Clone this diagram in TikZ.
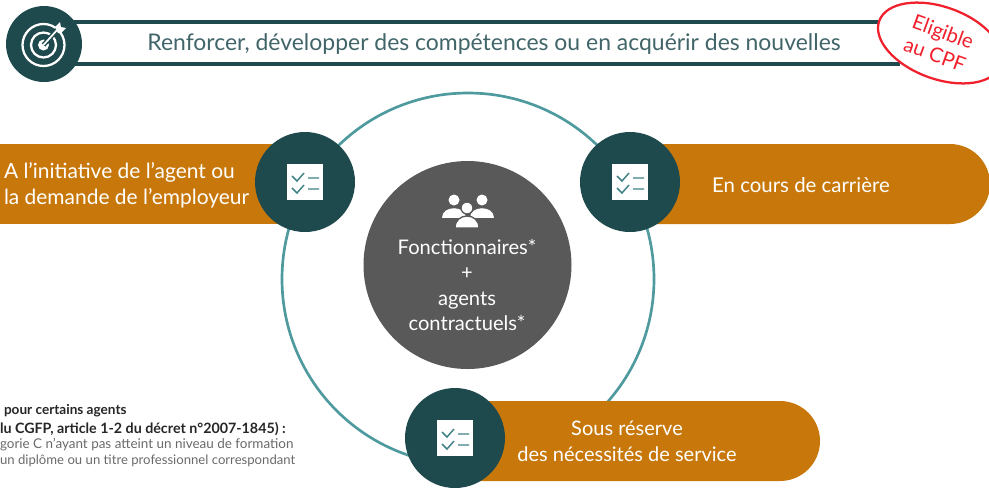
\documentclass[tikz,border=0pt]{standalone}
\usepackage{fontspec}
\usetikzlibrary{shapes.geometric}
\setmainfont{Lato}
\definecolor{darkteal}{HTML}{1F4A4D}
\definecolor{ringteal}{HTML}{4E9A9E}
\definecolor{bandorange}{HTML}{C8780A}
\definecolor{centergray}{HTML}{595959}
\definecolor{stampred}{HTML}{F0202C}
\definecolor{notegray}{HTML}{6A6A6A}

\begin{document}
\begin{tikzpicture}[x=0.75pt, y=-0.75pt,
	nosep/.style={inner sep=0pt, outer sep=0pt},
	disc/.style={circle, minimum size=75pt, fill=darkteal, nosep},
	band/.style={fill=bandorange},
	bandtext/.style={white, align=center, font=\fontsize{15}{19.5}\selectfont, nosep},
	note/.style={anchor=west, nosep, notegray},
	notehead/.style={anchor=west, nosep, black!85},
	checklist/.pic={
		\fill[white] (-18,-18) rectangle (18,18);
		\draw[ringteal!70!darkteal, line width=1.1pt] (-13,-6) -- (-8,-1) -- (-1,-9) (3,-4) -- (14,-4);
		\draw[ringteal!70!darkteal, line width=1.1pt] (-13,6) -- (-8,11) -- (-1,3) (3,7) -- (14,7);
	}
]
\useasboundingbox (0,0) rectangle (989,487);

% Header
\node[circle, minimum size=57pt, fill=darkteal, nosep] (goal) at (44,44) {};
\coordinate (topend) at (900,22);
\coordinate (botend) at (900,64);
\draw[darkteal, line width=3pt] (goal.north east |- topend) -- (topend);
\draw[darkteal, line width=3pt] (goal.south east |- botend) -- (botend);
\node[nosep, darkteal!85, font=\fontsize{17.2}{20}\selectfont] (title) at (494,44) {Renforcer, développer des compétences ou en acquérir des nouvelles};

% Target
\draw[white, line width=1.7pt] (43.5,45) circle (21);
\draw[white, line width=1.7pt] (43.5,45) circle (12.5);
\fill[white] (43.5,45) circle (5.5);
\draw[darkteal, line width=3.5pt] (43.5,45) -- (58,29);
\draw[white, line width=1.3pt] (43.5,45) -- (58,29);
\fill[white] (55,27) -- (58,24) -- (60,22) -- (61,27) -- (66,28) -- (61,33) -- (58,33) -- cycle;

% Stamp
\node[ellipse, draw=stampred, line width=1.7pt, fill=white, minimum width=97pt, minimum height=54pt, rotate=-20, nosep] (stamp) at (940,43) {};
\node[stampred, rotate=-20, align=center, nosep, font=\fontsize{15.2}{18}\selectfont] (stamptext) at (939,43) {Eligible\\au CPF};

% Ring
\node[circle, draw=ringteal, line width=2pt, minimum size=279pt, nosep] (ring) at (468,279) {};

% Center
\node[circle, fill=centergray, minimum size=156pt, nosep] (center) at (467.5,265) {};
\foreach \x in {454, 482} {
	\fill[white] (\x,200) circle (5.5);
	\fill[white] (\x-12,218) .. controls (\x-12,205) and (\x+12,205) .. (\x+12,218) -- cycle;
}
\draw[fill=white, draw=centergray, line width=1pt] (455,228) .. controls (455,212) and (479,212) .. (479,228) -- cycle;
\draw[fill=white, draw=centergray, line width=1pt] (467,208) circle (6);
\node[white, nosep, align=center, font=\fontsize{15.1}{19.2}\selectfont] (who) at (467,285) {Fonctionnaires*\\+\\agents\\contractuels*};

% Bands
\fill[band] (0,144) rectangle (305,224);
\fill[band] (630,144) -- (950,144) arc (-90:90:40) -- (630,224) -- cycle;
\fill[band] (455,401) -- (780,401) arc (-90:90:40) -- (455,481) -- cycle;

% Discs and icons
\node[disc] (left) at (305,182) {};
\node[disc] (right) at (630,182) {};
\node[disc] (bottom) at (455,438) {};
\pic at (left) {checklist};
\pic at (right) {checklist};
\pic at (bottom) {checklist};

% Labels
\node[bandtext, align=left, anchor=west, font=\fontsize{15.7}{19.5}\selectfont] (lefttext) at (4,185) {A l'initiative de l'agent ou\\la demande de l'employeur};
\node[bandtext, font=\fontsize{15.3}{19.5}\selectfont] (righttext) at (801,185) {En cours de carrière};
\node[bandtext] (bottomtext) at (627,441) {Sous réserve\\des nécessités de service};

% Footnote
\node[notehead, font=\fontsize{10.2}{12}\selectfont\bfseries] (n1) at (4,411) {pour certains agents};
\node[notehead, font=\fontsize{10.7}{12}\selectfont\bfseries] (n2) at (0,429) {lu CGFP, article 1-2 du décret n°2007-1845) :};
\node[note, font=\fontsize{10.1}{12}\selectfont] (n3) at (0,445) {gorie C n'ayant pas atteint un niveau de formation};
\node[note, font=\fontsize{9.85}{12}\selectfont] (n4) at (0,461) {un diplôme ou un titre professionnel correspondant};
\end{tikzpicture}
\end{document}
